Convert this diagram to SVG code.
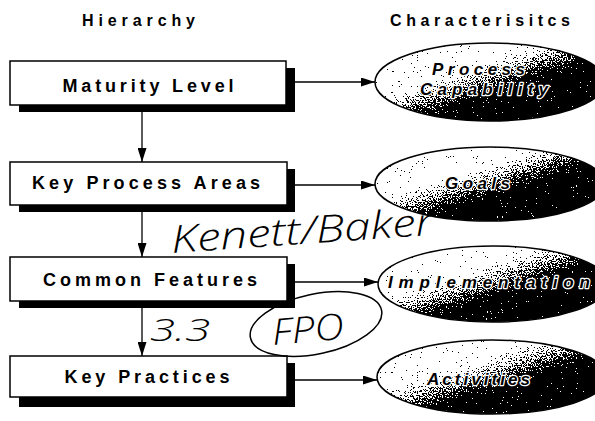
<svg xmlns="http://www.w3.org/2000/svg" width="595" height="421" viewBox="0 0 595 421">
<style>
.hdr{font-family:"Liberation Sans",Arial,sans-serif;font-weight:bold;font-size:16px;fill:#000}
.box{fill:#fff;stroke:#000;stroke-width:1.5}
.shadow{fill:#000}
.btxt{font-family:"Liberation Sans",Arial,sans-serif;font-weight:bold;font-size:18px;fill:#000;text-anchor:middle}
.efill{fill:url(#eg);filter:url(#dither)}
.eline{fill:none;stroke:#000;stroke-width:1.5}
.etxt{font-family:"Liberation Sans",Arial,sans-serif;font-weight:bold;font-style:italic;font-size:17px;fill:#000;stroke:#fff;stroke-width:2.5;paint-order:stroke;stroke-linejoin:round}
.conn{stroke:#000;stroke-width:1.3;fill:none;marker-end:url(#ah)}
.hand{font-family:"Open Sans","DejaVu Sans",sans-serif;font-weight:300;font-style:italic;fill:#000}
</style>
<defs>
<marker id="ah" markerUnits="userSpaceOnUse" markerWidth="14" markerHeight="9" refX="14" refY="4.5" orient="auto">
<path d="M0,0 L14,4.5 L0,9 z" fill="#000"/>
</marker>
<linearGradient id="eg" x1="0" y1="0" x2="1" y2="1">
<stop offset="0.36" stop-color="#fff"/>
<stop offset="0.6" stop-color="#000"/>
</linearGradient>
<filter id="dither" x="0" y="0" width="1" height="1" color-interpolation-filters="sRGB">
<feTurbulence type="fractalNoise" baseFrequency="0.8" numOctaves="2" seed="7" result="n"/>
<feColorMatrix in="n" type="matrix" values="1 0 0 0 0  1 0 0 0 0  1 0 0 0 0  0 0 0 0 1" result="g"/>
<feComposite in="SourceGraphic" in2="g" operator="arithmetic" k1="0" k2="1" k3="2" k4="-1" result="s"/>
<feComponentTransfer in="s" result="t">
<feFuncR type="discrete" tableValues="0 1"/>
<feFuncG type="discrete" tableValues="0 1"/>
<feFuncB type="discrete" tableValues="0 1"/>
</feComponentTransfer>
<feComposite in="t" in2="SourceGraphic" operator="in"/>
</filter>
</defs>
<rect width="595" height="421" fill="#fff"/>

<text class="hdr" x="82" y="26" textLength="113" lengthAdjust="spacing">Hierarchy</text>
<text class="hdr" x="390" y="26" textLength="180" lengthAdjust="spacing">Characterisitcs</text>

<g id="connectors">
<line class="conn" x1="142" y1="112" x2="142" y2="162"/>
<line class="conn" x1="142" y1="212" x2="142" y2="257"/>
<line class="conn" x1="142" y1="308" x2="142" y2="356"/>
<line class="conn" x1="295" y1="82" x2="375" y2="82"/>
<line class="conn" x1="295" y1="185" x2="375" y2="185"/>
<line class="conn" x1="295" y1="282" x2="378" y2="282"/>
<line class="conn" x1="295" y1="380" x2="377" y2="380"/>
</g>

<g id="maturity-level">
<rect class="shadow" x="19" y="68" width="276" height="44"/>
<rect class="box" x="10" y="61" width="276" height="44"/>
<text class="btxt" x="148" y="92" textLength="171" lengthAdjust="spacing">Maturity Level</text>
</g>
<g id="key-process-areas">
<rect class="shadow" x="19" y="169" width="276" height="43"/>
<rect class="box" x="10" y="162" width="277" height="43"/>
<text class="btxt" x="146" y="189" textLength="228" lengthAdjust="spacing">Key Process Areas</text>
</g>
<g id="common-features">
<rect class="shadow" x="19" y="264" width="276" height="44"/>
<rect class="box" x="10" y="257" width="277" height="44"/>
<text class="btxt" x="150" y="286" textLength="214" lengthAdjust="spacing">Common Features</text>
</g>
<g id="key-practices">
<rect class="shadow" x="19" y="363" width="276" height="44"/>
<rect class="box" x="10" y="356" width="277" height="41"/>
<text class="btxt" x="147" y="383" textLength="165" lengthAdjust="spacing">Key Practices</text>
</g>

<g id="process-capability">
<ellipse class="efill" cx="490" cy="82" rx="115" ry="39"/>
<ellipse class="eline" cx="490" cy="82" rx="115" ry="39"/>
<text class="etxt" x="432" y="75" textLength="93" lengthAdjust="spacing">Process</text>
<text class="etxt" x="420" y="95" textLength="128" lengthAdjust="spacing">Capability</text>
</g>
<g id="goals">
<ellipse class="efill" cx="490" cy="184" rx="115" ry="37"/>
<ellipse class="eline" cx="490" cy="184" rx="115" ry="37"/>
<text class="etxt" x="445" y="189" textLength="65" lengthAdjust="spacing">Goals</text>
</g>
<g id="implementation">
<ellipse class="efill" cx="493" cy="284" rx="115" ry="38"/>
<ellipse class="eline" cx="493" cy="284" rx="115" ry="38"/>
<text class="etxt" x="388" y="288" textLength="202" lengthAdjust="spacing">Implementation</text>
</g>
<g id="activities">
<ellipse class="efill" cx="492" cy="377" rx="115" ry="37"/>
<ellipse class="eline" cx="492" cy="377" rx="115" ry="37"/>
<text class="etxt" x="427" y="385" textLength="103" lengthAdjust="spacing">Activities</text>
</g>

<g id="annotations">
<text class="hand" x="172" y="253" font-size="38" textLength="263" lengthAdjust="spacingAndGlyphs" transform="rotate(-4 172 253)">Kenett/Baker</text>
<text class="hand" x="150" y="341" font-size="32" textLength="60" lengthAdjust="spacingAndGlyphs">3.3</text>
<text class="hand" x="273" y="345" font-size="36" textLength="72" lengthAdjust="spacingAndGlyphs" transform="rotate(-5 273 345)">FPO</text>
<ellipse cx="316" cy="324" rx="67" ry="30" fill="none" stroke="#000" stroke-width="1.5" transform="rotate(-12 316 324)"/>
</g>
</svg>
